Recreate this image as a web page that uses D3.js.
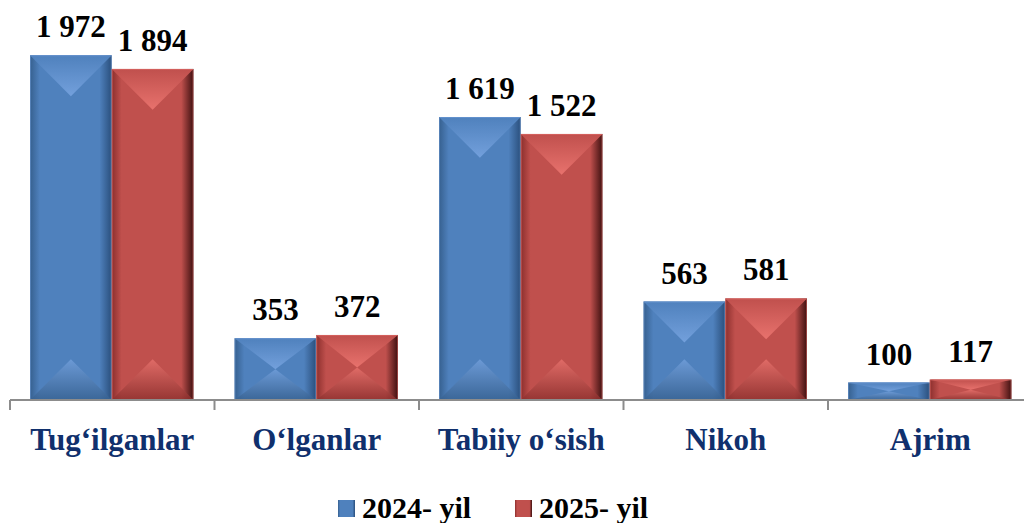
<!DOCTYPE html>
<html lang="en">
<head>
  <meta charset="UTF-8">
  <title>Tug'ilganlar, o'lganlar, nikoh va ajrim</title>
  <script src="https://d3js.org/d3.v7.min.js"></script>
  <style>
    body { margin: 0; background: #fff; }
  </style>
</head>
<body>
  <svg id="chart" width="1024" height="523"></svg>

  <script>
    // data
    const categories = ['Tug\u2018ilganlar', 'O\u2018lganlar', 'Tabiiy o\u2018sish', 'Nikoh', 'Ajrim'];
    const seriesNames = ['2024- yil', '2025- yil'];
    const values2024 = [1972, 353, 1619, 563, 100];
    const values2025 = [1894, 372, 1522, 581, 117];
    const seriesValues = [values2024, values2025];

    const FONT = "'Liberation Serif'";

    const svg = d3.select('#chart');
    const defs = svg.append('defs');

    // colours for each series
    const palette = [
      { base: '#4f81bd', light: '#73a0dc', dark: '#36608f', edge: '#2a4f7c' },
      { base: '#c0504d', light: '#e8726d', dark: '#8c2f2d', edge: '#3e1010' }
    ];

    palette.forEach((c, i) => {
      // horizontal shading of the bar body
      const g = defs.append('linearGradient').attr('id', 'body' + i)
        .attr('x1', 0).attr('x2', 1).attr('y1', 0).attr('y2', 0);
      g.append('stop').attr('offset', '0%').attr('stop-color', c.dark);
      g.append('stop').attr('offset', '12%').attr('stop-color', c.base);
      g.append('stop').attr('offset', '50%').attr('stop-color', c.base);
      g.append('stop').attr('offset', '85%').attr('stop-color', c.base);
      g.append('stop').attr('offset', '100%').attr('stop-color', c.edge);
      // top bevel face
      const t = defs.append('linearGradient').attr('id', 'top' + i)
        .attr('x1', 0).attr('x2', 0).attr('y1', 0).attr('y2', 1);
      t.append('stop').attr('offset', '0%').attr('stop-color', c.base);
      t.append('stop').attr('offset', '100%').attr('stop-color', c.light);
      // bottom bevel face
      const b = defs.append('linearGradient').attr('id', 'bot' + i)
        .attr('x1', 0).attr('x2', 0).attr('y1', 0).attr('y2', 1);
      b.append('stop').attr('offset', '0%').attr('stop-color', c.light);
      b.append('stop').attr('offset', '100%').attr('stop-color', c.dark);
    });

    const baseY = 400;

    const x0 = d3.scaleBand()
      .domain(categories)
      .range([10, 1032.5])
      .paddingInner(0)
      .paddingOuter(0);

    const x1 = d3.scaleBand()
      .domain(seriesNames)
      .range([20, x0.bandwidth() - 21])
      .padding(0);

    const y = d3.scaleLinear()
      .domain([0, 2000])
      .range([baseY, 50.4]);

    // serif bold text, appended straight on the svg
    function addText(x, yy, size, fill, anchor, str) {
      return svg.append('text')
        .attr('x', x).attr('y', yy)
        .attr('font-size', size)
        .attr('font-weight', 'bold')
        .attr('text-anchor', anchor)
        .attr('fill', fill)
        .style('font-family', FONT)
        .text(str);
    }

    const labels = [];

    // bars
    const groups = svg.append('g').selectAll('g')
      .data(categories)
      .join('g')
      .attr('transform', d => `translate(${x0(d)},0)`);

    groups.each(function(cat, ci) {
      const g = d3.select(this);
      seriesNames.forEach((s, si) => {
        const v = seriesValues[si][ci];
        const bx = x1(s);
        const w = x1.bandwidth();
        const top = y(v);
        const h = baseY - top;
        const depth = Math.min(w / 2, h / 2);

        g.append('rect')
          .attr('x', bx).attr('y', top)
          .attr('width', w).attr('height', h)
          .attr('fill', `url(#body${si})`);

        // top bevel (V shape)
        g.append('path')
          .attr('d', `M${bx},${top} L${bx + w},${top} L${bx + w / 2},${top + depth} Z`)
          .attr('fill', `url(#top${si})`);

        // bottom bevel (inverted V)
        g.append('path')
          .attr('d', `M${bx},${baseY} L${bx + w},${baseY} L${bx + w / 2},${baseY - depth} Z`)
          .attr('fill', `url(#bot${si})`)
          .attr('opacity', 0.8);

        g.append('rect')
          .attr('x', bx + 0.5).attr('y', top + 0.5)
          .attr('width', w - 1).attr('height', h - 1)
          .attr('fill', 'none')
          .attr('stroke', palette[si].light)
          .attr('stroke-opacity', 0.5);

        labels.push({ x: x0(cat) + bx + w / 2, y: top - 18, v: v });
      });
    });

    // value labels
    labels.forEach(l => addText(l.x, l.y, 31, '#000', 'middle', d3.format(',')(l.v).replace(',', ' ')));

    // category axis
    const axis = svg.append('g');
    axis.append('line')
      .attr('x1', 10).attr('x2', 1032.5)
      .attr('y1', baseY).attr('y2', baseY)
      .attr('stroke', '#8c8c8c').attr('stroke-width', 2);

    const tickPos = categories.map(c => x0(c)).concat([x0.range()[1]]);
    axis.selectAll('line.tick')
      .data(tickPos)
      .join('line')
      .attr('class', 'tick')
      .attr('x1', d => d).attr('x2', d => d)
      .attr('y1', baseY).attr('y2', baseY + 10)
      .attr('stroke', '#8c8c8c').attr('stroke-width', 2);

    categories.forEach(c => addText(x0(c) + x0.bandwidth() / 2, 450, 31, '#10306d', 'middle', c));

    // legend
    const legendX = [338, 515];
    seriesNames.forEach((s, i) => {
      svg.append('rect')
        .attr('x', legendX[i]).attr('y', 500)
        .attr('width', 17).attr('height', 17)
        .attr('fill', `url(#body${i})`);
      addText(legendX[i] + 24, 518, 30, '#000', 'start', s);
    });
  </script>
</body>
</html>
